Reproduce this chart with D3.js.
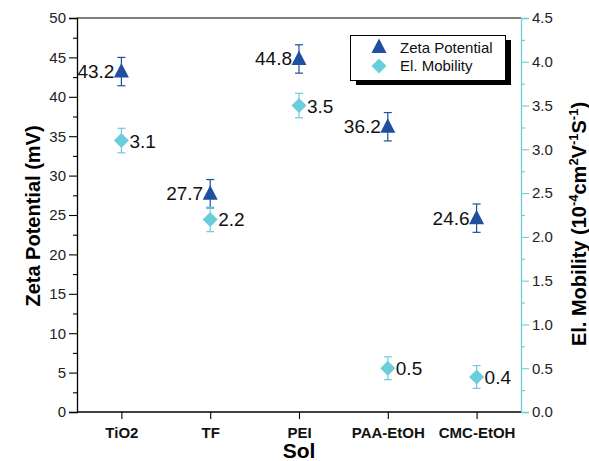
<!DOCTYPE html>
<html>
<head>
<meta charset="utf-8">
<script src="https://cdn.jsdelivr.net/npm/d3@7"></script>
<style>
  html, body { margin: 0; padding: 0; background: #fff; }
  svg { display: block; font-family: "Liberation Sans", Arial, sans-serif; }
</style>
</head>
<body>
<svg id="chart" width="589" height="461"></svg>
<script>
// Sol samples and their measured properties
const categories = ["TiO2", "TF", "PEI", "PAA-EtOH", "CMC-EtOH"];
const zetaPotential = [43.2, 27.7, 44.8, 36.2, 24.6];      // mV
const zetaError = [1.8, 1.8, 1.8, 1.8, 1.8];
const mobility = [3.1, 2.2, 3.5, 0.5, 0.4];                 // 10^-4 cm2/(V·s)
const mobilityError = [0.14, 0.14, 0.14, 0.13, 0.13];
const zetaTicks = [0, 5, 10, 15, 20, 25, 30, 35, 40, 45, 50];
const mobilityTicks = [0, 0.5, 1.0, 1.5, 2.0, 2.5, 3.0, 3.5, 4.0, 4.5];

const zetaColor = "#1f4f9f";
const mobColor = "#6ccdda";

const svg = d3.select("#chart");
const m = { left: 77, right: 521, top: 18, bottom: 412 };

const x = d3.scalePoint().domain(categories).range([m.left, m.right]).padding(0.5);
const yL = d3.scaleLinear().domain([0, 50]).range([m.bottom, m.top]);
const yR = d3.scaleLinear().domain([0, 4.5]).range([m.bottom, m.top]);

// frame top line
svg.append("line").attr("x1", m.left).attr("x2", m.right)
  .attr("y1", m.top).attr("y2", m.top).attr("stroke", "#000").attr("stroke-width", 1.2);

// left axis: major + minor ticks
const gL = svg.append("g").attr("transform", `translate(${m.left},0)`);
gL.call(d3.axisLeft(yL).tickValues(d3.range(2.5, 50, 5)).tickSize(4).tickFormat(""));
gL.call(g => g.select(".domain").remove());
const gL2 = svg.append("g").attr("transform", `translate(${m.left},0)`)
  .call(d3.axisLeft(yL).tickValues(zetaTicks).tickSize(8).tickPadding(3).tickFormat(d3.format("d")));
[gL, gL2].forEach(g => {
  g.selectAll("line").attr("stroke", "#000").attr("stroke-width", 1.1);
  g.selectAll(".domain").attr("stroke", "#000").attr("stroke-width", 1.3);
  g.selectAll("text").attr("font-size", 15).attr("fill", "#222").attr("font-family", "Liberation Sans, Arial, sans-serif");
});

// right axis
const gR = svg.append("g").attr("transform", `translate(${m.right},0)`);
gR.call(d3.axisRight(yR).tickValues(d3.range(0.25, 4.5, 0.5)).tickSize(4).tickFormat(""));
gR.call(g => g.select(".domain").remove());
const gR2 = svg.append("g").attr("transform", `translate(${m.right},0)`)
  .call(d3.axisRight(yR).tickValues(mobilityTicks).tickSize(8).tickPadding(3).tickFormat(d3.format(".1f")));
[gR, gR2].forEach(g => {
  g.selectAll("line").attr("stroke", mobColor).attr("stroke-width", 1.1);
  g.selectAll(".domain").attr("stroke", mobColor).attr("stroke-width", 1.3);
  g.selectAll("text").attr("font-size", 15).attr("fill", "#222").attr("font-family", "Liberation Sans, Arial, sans-serif");
});

// bottom axis
const gB = svg.append("g").attr("transform", `translate(0,${m.bottom})`)
  .call(d3.axisBottom(x).tickSize(7).tickPadding(8).tickSizeOuter(0));
gB.select(".domain").attr("stroke", "#000").attr("stroke-width", 1.3)
  .attr("d", `M${m.left},0H${m.right}`);
gB.selectAll("line").attr("stroke", "#000").attr("stroke-width", 1.1);
gB.selectAll("text").attr("font-size", 15).attr("font-weight", "bold").attr("fill", "#111")
  .attr("font-family", "Liberation Sans, Arial, sans-serif");

// axis titles
svg.append("text").attr("x", x("PEI")).attr("y", 458).attr("text-anchor", "middle")
  .attr("font-size", 21).attr("font-weight", "bold").text("Sol");
svg.append("text").attr("transform", "translate(40,216) rotate(-90)").attr("text-anchor", "middle")
  .attr("font-size", 20).attr("font-weight", "bold").text("Zeta Potential (mV)");
const rt = svg.append("text").attr("transform", "translate(586,224) rotate(-90)")
  .attr("text-anchor", "middle").attr("font-size", 20).attr("font-weight", "bold");
[["El. Mobility (10", 0], ["-4", 1], ["cm", 0], ["2", 1], ["V", 0], ["-1", 1], ["S", 0], ["-1", 1], [")", 0]]
  .forEach(([t, sup], i, arr) => {
    const prevSup = i > 0 && arr[i - 1][1];
    const dy = sup && !prevSup ? -8 : (!sup && prevSup ? 8 : 0);
    rt.append("tspan").attr("dy", dy).attr("font-size", sup ? 13 : 20).text(t);
  });

// error bars
function errorBars(vals, errs, scale, color) {
  const g = svg.append("g").attr("stroke", color).attr("stroke-width", 1.2).attr("fill", "none");
  categories.forEach((c, i) => {
    const cx = x(c), y1 = scale(vals[i] + errs[i]), y2 = scale(vals[i] - errs[i]);
    g.append("line").attr("x1", cx).attr("x2", cx).attr("y1", y1).attr("y2", y2);
    g.append("line").attr("x1", cx - 4).attr("x2", cx + 4).attr("y1", y1).attr("y2", y1);
    g.append("line").attr("x1", cx - 4).attr("x2", cx + 4).attr("y1", y2).attr("y2", y2);
  });
}
errorBars(zetaPotential, zetaError, yL, zetaColor);
errorBars(mobility, mobilityError, yR, mobColor);

const triPath = "M0,-8.5L7.5,6L-7.5,6Z";
const diaPath = "M0,-7.5L7.5,0L0,7.5L-7.5,0Z";

// zeta potential markers + labels
categories.forEach((c, i) => {
  const cx = x(c), cy = yL(zetaPotential[i]);
  svg.append("path").attr("d", triPath).attr("transform", `translate(${cx},${cy})`).attr("fill", zetaColor);
  svg.append("text").attr("x", cx - 7).attr("y", cy + 6.5).attr("text-anchor", "end")
    .attr("font-size", 19).attr("fill", "#111").text(d3.format(".1f")(zetaPotential[i]));
});

// mobility markers + labels
categories.forEach((c, i) => {
  const cx = x(c), cy = yR(mobility[i]);
  svg.append("path").attr("d", diaPath).attr("transform", `translate(${cx},${cy})`).attr("fill", mobColor);
  svg.append("text").attr("x", cx + 8).attr("y", cy + 7).attr("text-anchor", "start")
    .attr("font-size", 19).attr("fill", "#111").text(d3.format(".1f")(mobility[i]));
});

// legend with drop shadow
const lg = svg.append("g");
lg.append("rect").attr("x", 356).attr("y", 40).attr("width", 155).attr("height", 45).attr("fill", "#000");
lg.append("rect").attr("x", 350.5).attr("y", 35.5).attr("width", 155).attr("height", 45)
  .attr("fill", "#fff").attr("stroke", "#000").attr("stroke-width", 1);
lg.append("path").attr("d", triPath).attr("transform", "translate(379,47)").attr("fill", zetaColor);
lg.append("path").attr("d", diaPath).attr("transform", "translate(379,66)").attr("fill", mobColor);
lg.append("text").attr("x", 400).attr("y", 53).attr("font-size", 15).attr("fill", "#111").text("Zeta Potential");
lg.append("text").attr("x", 400).attr("y", 71).attr("font-size", 15).attr("fill", "#111").text("El. Mobility");
</script>
</body>
</html>
